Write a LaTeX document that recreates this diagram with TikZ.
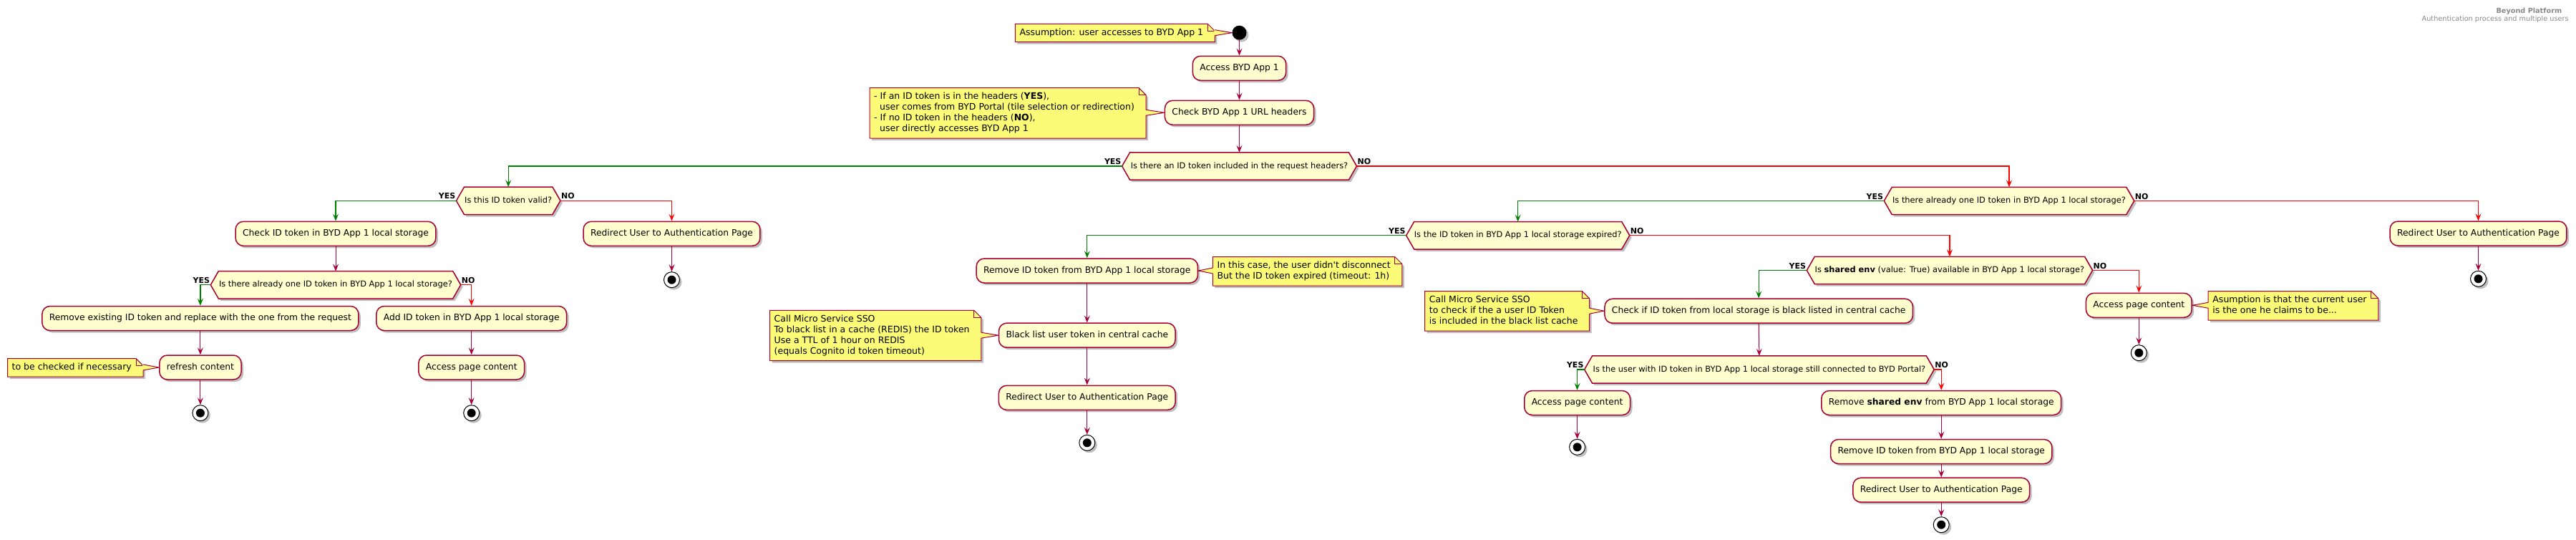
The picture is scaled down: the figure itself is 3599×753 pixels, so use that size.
\documentclass[tikz,border=0pt]{standalone}
\usepackage{fontspec}
\setmainfont{DejaVu Sans}[Ligatures=TeXOff]
\usetikzlibrary{arrows.meta,shadows,calc}
\pgfdeclarelayer{background}
\pgfsetlayers{background,main}
\definecolor{pborder}{HTML}{A80036}
\definecolor{pfill}{HTML}{FEFECE}
\definecolor{nfill}{HTML}{FBFB77}
\definecolor{pgreen}{HTML}{008000}
\definecolor{pred}{HTML}{FF0000}
\definecolor{ttl}{HTML}{888888}
\newcommand\nstr{\rule[-4pt]{0pt}{15pt}}
\tikzset{
 shad/.style={drop shadow={shadow xshift=3pt, shadow yshift=-3pt, opacity=0.25, fill=black}},
 actbox/.style={draw=pborder, line width=1.5pt, fill=pfill, rounded corners=11pt, minimum height=34pt, inner xsep=10pt, inner ysep=0pt, text height=9pt, text depth=2.6pt, font=\fontsize{12.3}{15}\selectfont, shad},
 dectext/.style={minimum height=38pt, inner xsep=11pt, inner ysep=0pt, font=\fontsize{11.4}{14}\selectfont, text height=8.4pt, text depth=2.4pt},
 decbox/.style={draw=pborder, line width=1.5pt, fill=pfill, line join=miter, shad},
 notetext/.style={inner sep=0pt, align=left, anchor=north west, font=\fontsize{12.5}{15}\selectfont},
 notebox/.style={draw=pborder, line width=1pt, fill=nfill, shad},
 arr/.style={draw=pborder, line width=1pt, -{Stealth[length=10pt,width=8pt,inset=4pt]}},
 garr/.style={arr, draw=pgreen, line width=1.2pt},
 rarr/.style={arr, draw=pred, line width=1.2pt},
 lbl/.style={font=\fontsize{11}{13}\selectfont\bfseries, inner sep=1pt},
 startc/.style={circle, fill=black, minimum size=20pt, inner sep=0pt, shad},
 stopc/.style={circle, draw=black, line width=1pt, fill=white, minimum size=22pt, inner sep=0pt, shad,
   path picture={\fill[black] (path picture bounding box.center) circle (6pt);}},
 ttlt/.style={text=ttl, inner sep=0pt, font=\fontsize{9.7}{11}\selectfont},
}
% decision: name, x, y, halfwidth, text
\newcommand\mkdec[5]{%
 \node[dectext, minimum width={2*#4pt}] (#1) at (#2,#3) {#5};
 \begin{pgfonlayer}{background}
 \draw[decbox] (#1.west) -- ([xshift=11pt]#1.north west) -- ([xshift=-11pt]#1.north east) -- (#1.east) -- ([xshift=-11pt]#1.south east) -- ([xshift=11pt]#1.south west) -- cycle;
 \end{pgfonlayer}}
% note: name, x text left, y text top, text
\newcommand\mknote[4]{%
 \node[notetext] (#1) at (#2,#3) {#4};
 \begin{pgfonlayer}{background}
 \draw[notebox] ([shift={(-6pt,5pt)}]#1.north west) -- ([shift={(6pt,5pt)}]#1.north east) -- ([shift={(16pt,-5pt)}]#1.north east) -- ([shift={(16pt,-5pt)}]#1.south east) -- ([shift={(-6pt,-5pt)}]#1.south west) -- cycle;
 \draw[pborder, line width=1pt] ([shift={(6pt,5pt)}]#1.north east) -- ([shift={(6pt,-5pt)}]#1.north east) -- ([shift={(16pt,-5pt)}]#1.north east);
 \end{pgfonlayer}}
% pointer from right edge of note to target
\newcommand\ptrR[2]{%
 \begin{pgfonlayer}{background}
 \fill[nfill] let \p1=(#1.east), \p2=(#2) in (\x1+15pt,\y2+4pt) -- (\p2) -- (\x1+15pt,\y2-4pt) -- cycle;
 \draw[pborder, line width=1pt] let \p1=(#1.east), \p2=(#2) in (\x1+16pt,\y2+4pt) -- (\p2) -- (\x1+16pt,\y2-4pt);
 \end{pgfonlayer}}
% pointer from left edge of note to target
\newcommand\ptrL[2]{%
 \begin{pgfonlayer}{background}
 \fill[nfill] let \p1=(#1.west), \p2=(#2) in (\x1-5pt,\y2+4pt) -- (\p2) -- (\x1-5pt,\y2-4pt) -- cycle;
 \draw[pborder, line width=1pt] let \p1=(#1.west), \p2=(#2) in (\x1-6pt,\y2+4pt) -- (\p2) -- (\x1-6pt,\y2-4pt);
 \end{pgfonlayer}}
\begin{document}
\begin{tikzpicture}[x=1pt,y=-1pt]
\useasboundingbox (0,0) rectangle (3599,753);

% title
\node[ttlt, anchor=east] (t1) at (3579.3,15.7) {\textbf{Beyond Platform}};
\node[ttlt, anchor=east] (t2) at (3588.7,26.7) {Authentication process and multiple users};

% top
\node[startc] (start) at (1731.5,45.7) {};
\node[actbox] (access) at (1731.5,95.3) {Access BYD App 1};
\node[actbox] (check) at (1731.5,157.3) {Check BYD App 1 URL headers};
\mkdec{d1}{1731.5}{232}{163.7}{Is there an ID token included in the request headers?}

\mknote{n1}{1424.3}{38.3}{\nstr Assumption: user accesses to BYD App 1}
\ptrR{n1}{start.west}
\mknote{n2}{1221}{127.7}{\nstr - If an ID token is in the headers (\textbf{YES}),\\\nstr\hspace*{8pt}user comes from BYD Portal (tile selection or redirection)\\\nstr - If no ID token in the headers (\textbf{NO}),\\\nstr\hspace*{8pt}user directly accesses BYD App 1}
\ptrR{n2}{check.west}

% left part
\mkdec{d2}{710.2}{280.3}{72.5}{Is this ID token valid?}
\node[actbox] (checkid) at (469,326.3) {Check ID token in BYD App 1 local storage};
\node[actbox] (redira) at (938.5,326.3) {Redirect User to Authentication Page};
\node[stopc] (e1) at (938.5,390.7) {};
\mkdec{d3}{469}{397.8}{174.5}{Is there already one ID token in BYD App 1 local storage?}
\node[actbox] (remex) at (279.9,444.5) {Remove existing ID token and replace with the one from the request};
\node[actbox] (add) at (658.7,444.5) {Add ID token in BYD App 1 local storage};
\node[actbox] (refresh) at (279.9,513) {refresh content};
\node[actbox] (acca) at (658.7,513) {Access page content};
\node[stopc] (e2) at (279.9,576.7) {};
\node[stopc] (e3) at (658.7,576.7) {};
\mknote{n3}{16.5}{505.7}{\nstr to be checked if necessary}
\ptrR{n3}{refresh.west}

% right part
\mkdec{d7}{2807}{280.5}{174.5}{Is there already one ID token in BYD App 1 local storage?}
\node[actbox] (redird) at (3462.5,326) {Redirect User to Authentication Page};
\node[stopc] (e8) at (3462.5,389.3) {};
\mkdec{d4}{2120.7}{328.8}{155.3}{Is the ID token in BYD App 1 local storage expired?}
\node[actbox] (remid) at (1518.8,378) {Remove ID token from BYD App 1 local storage};
\mknote{n4}{1700.4}{363.7}{\nstr In this case, the user didn't disconnect\\\nstr But the ID token expired (timeout: 1h)}
\ptrL{n4}{remid.east}
\node[actbox] (black) at (1518.8,468.2) {Black list user token in central cache};
\mknote{n5}{1081.5}{438.3}{\nstr Call Micro Service SSO\\\nstr To black list in a cache (REDIS) the ID token\\\nstr Use a TTL of 1 hour on REDIS\\\nstr (equals Cognito id token timeout)}
\ptrR{n5}{black.west}
\node[actbox] (redirb) at (1518.8,555.3) {Redirect User to Authentication Page};
\node[stopc] (e4) at (1518.8,618.3) {};

\mkdec{d5}{2723.9}{377.5}{199.4}{Is \textbf{shared env} (value: True) available in BYD App 1 local storage?}
\node[actbox] (checkbl) at (2457.2,434.2) {Check if ID token from local storage is black listed in central cache};
\mknote{n6}{1996.7}{411.7}{\nstr Call Micro Service SSO\\\nstr to check if the a user ID Token\\\nstr is included in the black list cache}
\ptrR{n6}{checkbl.west}
\mkdec{d6}{2457.9}{516}{244.1}{Is the user with ID token in BYD App 1 local storage still connected to BYD Portal?}
\node[actbox] (accc) at (2203.6,562.5) {Access page content};
\node[stopc] (e5) at (2203.6,624.3) {};
\node[actbox] (remsh) at (2712.2,562.5) {Remove \textbf{shared env} from BYD App 1 local storage};
\node[actbox] (remidb) at (2712.2,630.5) {Remove ID token from BYD App 1 local storage};
\node[actbox] (redirc) at (2712.2,684.2) {Redirect User to Authentication Page};
\node[stopc] (e6) at (2712.2,732.7) {};

\node[actbox] (accb) at (2988.3,426.3) {Access page content};
\mknote{n7}{3091.2}{411.7}{\nstr Asumption is that the current user\\\nstr is the one he claims to be...}
\ptrL{n7}{accb.east}
\node[stopc] (e7) at (2988.3,492.7) {};

% connectors
\draw[arr] (start.south) -- (access.north);
\draw[arr] (access.south) -- (check.north);
\draw[arr] (check.south) -- (d1.north);
\draw[garr] (d1.west) -| (d2.north);
\draw[rarr] (d1.east) -| (d7.north);
\draw[garr] (d2.west) -| (checkid.north);
\draw[rarr] (d2.east) -| (redira.north);
\draw[arr] (redira.south) -- (e1.north);
\draw[arr] (checkid.south) -- (d3.north);
\draw[garr] (d3.west) -| (remex.north);
\draw[rarr] (d3.east) -| (add.north);
\draw[arr] (remex.south) -- (refresh.north);
\draw[arr] (refresh.south) -- (e2.north);
\draw[arr] (add.south) -- (acca.north);
\draw[arr] (acca.south) -- (e3.north);
\draw[garr] (d7.west) -| (d4.north);
\draw[rarr] (d7.east) -| (redird.north);
\draw[arr] (redird.south) -- (e8.north);
\draw[garr] (d4.west) -| (remid.north);
\draw[rarr] (d4.east) -| (d5.north);
\draw[arr] (remid.south) -- (black.north);
\draw[arr] (black.south) -- (redirb.north);
\draw[arr] (redirb.south) -- (e4.north);
\draw[garr] (d5.west) -| (checkbl.north);
\draw[rarr] (d5.east) -| (accb.north);
\draw[arr] (accb.south) -- (e7.north);
\draw[arr] (checkbl.south) -- (d6.north);
\draw[garr] (d6.west) -| (accc.north);
\draw[rarr] (d6.east) -| (remsh.north);
\draw[arr] (accc.south) -- (e5.north);
\draw[arr] (remsh.south) -- (remidb.north);
\draw[arr] (remidb.south) -- (redirc.north);
\draw[arr] (redirc.south) -- (e6.north);

% branch labels
\foreach \d in {d1,d2,d3,d4,d5,d6,d7}{
 \node[lbl, anchor=south east, yshift=1pt] (\d y) at (\d.west) {YES};
 \node[lbl, anchor=south west, yshift=1pt] (\d n) at (\d.east) {NO};
}
\end{tikzpicture}
\end{document}
